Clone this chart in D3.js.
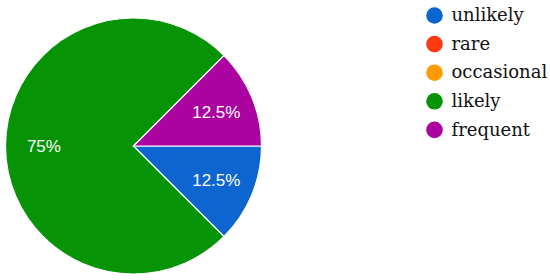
<!DOCTYPE html>
<html>
<head>
<meta charset="utf-8">
<script src="https://cdn.jsdelivr.net/npm/d3@7"></script>
<style>
    body { margin: 0; background: #fff; }
</style>
</head>
<body>
<div id="chart"></div>
<script>
const categories = ["unlikely", "rare", "occasional", "likely", "frequent"];
const values = [1, 0, 0, 6, 1];
const colors = ["#0d66d0", "#ff3a12", "#ff9a00", "#069406", "#ab039f"];

const width = 550, height = 280;
const cx = 133.5, cy = 146, radius = 128;

const svg = d3.select("#chart").append("svg")
    .attr("width", width)
    .attr("height", height);

const data = categories.map((c, i) => ({ name: c, value: values[i], color: colors[i] }));
const total = d3.sum(values);

const pie = d3.pie()
    .value(d => d.value)
    .sort(null)
    .startAngle(Math.PI / 2)
    .endAngle(Math.PI / 2 + 2 * Math.PI);

const arc = d3.arc().innerRadius(0).outerRadius(radius);
const labelArc = d3.arc().innerRadius(radius * 0.7).outerRadius(radius * 0.7);

const g = svg.append("g").attr("transform", `translate(${cx},${cy})`);

const arcs = pie(data).filter(d => d.data.value > 0);

g.selectAll("path")
    .data(arcs)
    .enter().append("path")
    .attr("d", arc)
    .attr("fill", d => d.data.color)
    .attr("stroke", "#fff")
    .attr("stroke-width", 1.2);

g.selectAll("text")
    .data(arcs)
    .enter().append("text")
    .attr("transform", d => `translate(${labelArc.centroid(d)})`)
    .attr("text-anchor", "middle")
    .attr("dy", "0.36em")
    .attr("fill", "#fff")
    .style("font-family", "Liberation Sans, Arial, sans-serif")
    .style("font-size", "17px")
    .text(d => d3.format(".3~r")(d.data.value / total * 100) + "%");

// legend
const legend = svg.append("g")
    .selectAll("g")
    .data(data)
    .enter().append("g")
    .attr("transform", (d, i) => `translate(434.5,${15.5 + i * 28.6})`);

legend.append("circle")
    .attr("r", 8.3)
    .attr("fill", d => d.color);

legend.append("text")
    .attr("x", 17)
    .attr("dy", "0.32em")
    .attr("fill", "#111")
    .style("font-family", "DejaVu Serif, serif")
    .style("font-size", "18px")
    .text(d => d.name);
</script>
</body>
</html>
